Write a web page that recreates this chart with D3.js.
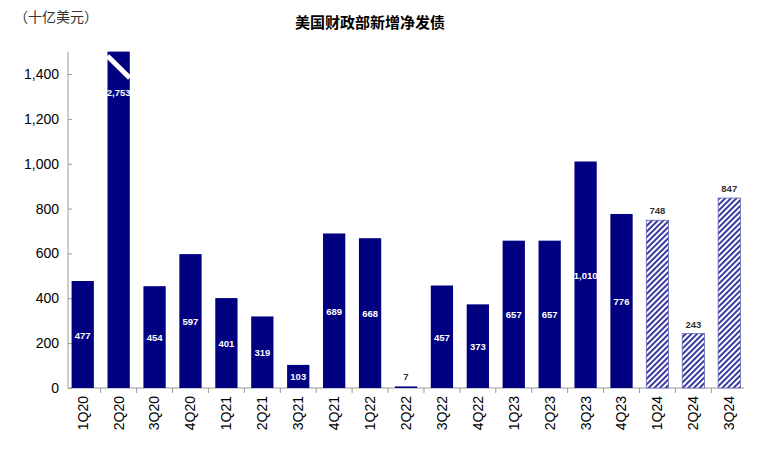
<!DOCTYPE html><html><head><meta charset="utf-8"><script src="https://d3js.org/d3.v7.min.js"></script>
<style>body{margin:0;background:#fff}text{font-family:"Liberation Sans",Arial,"Noto Sans CJK SC",sans-serif}</style></head><body><svg id="c" width="772" height="451"></svg>
<script>
const categories=["1Q20","2Q20","3Q20","4Q20","1Q21","2Q21","3Q21","4Q21","1Q22","2Q22","3Q22","4Q22","1Q23","2Q23","3Q23","4Q23","1Q24","2Q24","3Q24"];
const values=[477,2753,454,597,401,319,103,689,668,7,457,373,657,657,1010,776,748,243,847];
const forecast=[false,false,false,false,false,false,false,false,false,false,false,false,false,false,false,false,true,true,true];
const yTicks=[0,200,400,600,800,1000,1200,1400];
const svg=d3.select("#c");
const navy="#000080";
const defs=svg.append("defs");
const p=defs.append("pattern").attr("id","h").attr("patternUnits","userSpaceOnUse").attr("width",4).attr("height",4).attr("patternTransform","rotate(45)");
p.append("rect").attr("width",4).attr("height",4).attr("fill","#fff");
p.append("rect").attr("width",2).attr("height",4).attr("fill","#3a3aa0");
const x=d3.scaleBand().domain(categories).range([68,744]).paddingInner(0.38).paddingOuter(0.1);
const y=d3.scaleLinear().domain([0,1500]).range([388,51.6]);
const ax=svg.append("g").attr("transform","translate(68,0)").call(d3.axisLeft(y).tickValues(yTicks).tickSize(4).tickFormat(d3.format(",")));
ax.select(".domain").attr("stroke","#999").attr("d","M0,51.6V388");
ax.selectAll(".tick line").attr("stroke","#999").attr("x2",4).attr("x1",0);
ax.selectAll("text").attr("font-size",14).attr("fill","#000").attr("x",-9);
svg.append("line").attr("x1",68).attr("x2",744).attr("y1",388).attr("y2",388).attr("stroke","#999");
const bx=svg.append("g").attr("transform","translate(0,388)").call(d3.axisBottom(x).tickSize(0));
bx.select(".domain").remove();
bx.selectAll("text").attr("font-size",14).attr("fill","#000").attr("transform","rotate(-90)").attr("x",-8).attr("y",0).attr("dy","0.35em").style("text-anchor","end");
// ticks between categories
svg.append("g").selectAll("line").data(categories.slice(1)).join("line").attr("x1",d=>x(d)-x.step()*x.paddingInner()/2).attr("x2",d=>x(d)-x.step()*x.paddingInner()/2).attr("y1",388).attr("y2",393).attr("stroke","#999");
const yv=v=>y(Math.min(v,1500));
svg.append("g").selectAll("rect").data(categories).join("rect").attr("x",d=>x(d)).attr("width",x.bandwidth())
 .attr("y",(d,i)=>yv(values[i])).attr("height",(d,i)=>388-yv(values[i]))
 .attr("fill",(d,i)=>forecast[i]?"url(#h)":navy).attr("stroke",(d,i)=>forecast[i]?"#6666b8":"none").attr("stroke-width",0.8);
// break mark on 2Q20
const bx0=x("2Q20"),bw=x.bandwidth();
svg.append("path").attr("d",`M${bx0-1},${y(1420)} L${bx0+bw+1},${y(1310)} L${bx0+bw+1},${y(1280)} L${bx0-1},${y(1390)}Z`).attr("fill","none");
svg.append("line").attr("x1",bx0).attr("y1",56).attr("x2",bx0+bw).attr("y2",78).attr("stroke","#fff").attr("stroke-width",5);
svg.append("g").selectAll("text").data(categories).join("text")
 .attr("x",d=>x(d)+bw/2).attr("text-anchor","middle").attr("font-size",9.5).attr("font-weight","bold")
 .attr("y",(d,i)=>{const v=values[i];if(forecast[i]||v<50)return yv(v)-6;if(v>1500)return 96;return y(v/2)+4;})
 .attr("fill",(d,i)=>(forecast[i]||values[i]<50)?"#333":"#fff")
 .text((d,i)=>d3.format(",")(values[i]));
svg.append("text").attr("x",370).attr("y",28).attr("text-anchor","middle").attr("font-size",15).attr("font-weight","bold").text("美国财政部新增净发债");
svg.append("text").attr("x",14).attr("y",22).attr("font-size",14).attr("fill","#333").text("（十亿美元）");
</script></body></html>
